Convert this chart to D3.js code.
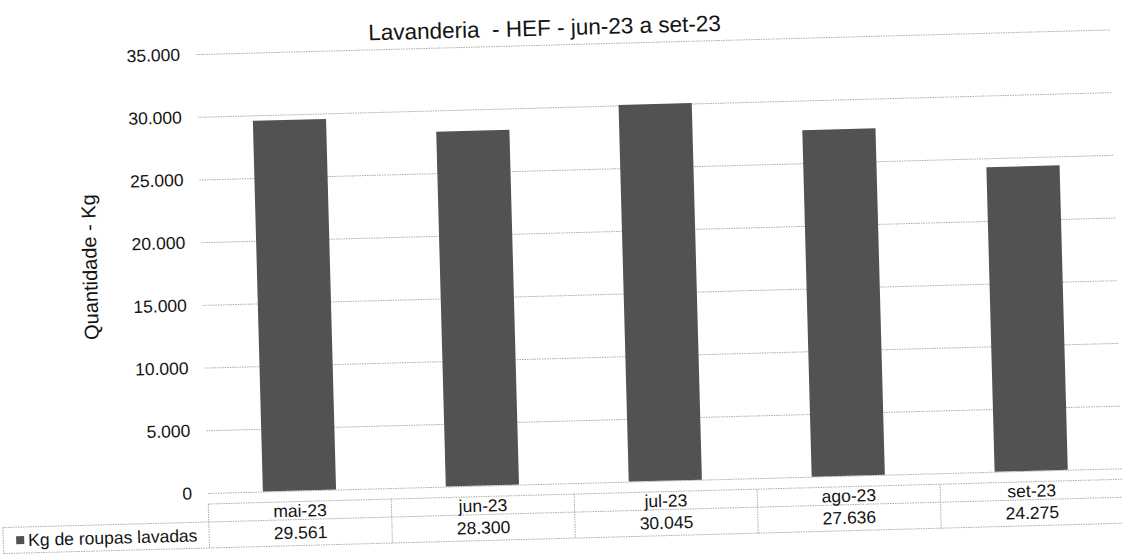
<!DOCTYPE html>
<html>
<head>
<meta charset="utf-8">
<script src="https://cdn.jsdelivr.net/npm/d3@7"></script>
<style>
  html, body { margin: 0; padding: 0; background: #fff; }
  svg { display: block; }
  text { font-family: "Liberation Sans", Arial, sans-serif; fill: #141414; }
</style>
</head>
<body>
<svg id="chart" width="1122" height="558"></svg>
<script>
// ---- data ----
const categories = ["mai-23", "jun-23", "jul-23", "ago-23", "set-23"];
const values = [29561, 28300, 30045, 27636, 24275];
const seriesName = "Kg de roupas lavadas";
const yTicks = [0, 5000, 10000, 15000, 20000, 25000, 30000, 35000];
const titleText = "Lavanderia  - HEF - jun-23 a set-23";
const yAxisTitle = "Quantidade - Kg";

// ---- layout ----
const W = 1122, H = 558;
const plotLeft = 208, plotRight = 1123, plotTop = 54, plotBottom = 493;
const tableTop = plotBottom + 11, row1H = 18, row2H = 26;
const barColor = "#525252";
const gridColor = "#ababab";

const locale = d3.formatLocale({ decimal: ",", thousands: ".", grouping: [3], currency: ["R$", ""] });
const fmt = locale.format(",d");

const svg = d3.select("#chart");
svg.append("rect").attr("width", W).attr("height", H).attr("fill", "#fff");

// scanned page is slightly rotated
const g = svg.append("g").attr("transform", `rotate(-1.55, ${plotLeft}, ${plotBottom})`);

const x = d3.scaleBand().domain(categories).range([plotLeft, plotRight]).paddingInner(0.6).paddingOuter(0.3);
const xCell = d3.scaleBand().domain(categories).range([plotLeft, plotRight]).padding(0);
const y = d3.scaleLinear().domain([0, 35000]).range([plotBottom, plotTop]);

// gridlines + tick labels
const yAxis = d3.axisLeft(y).tickValues(yTicks).tickFormat(fmt)
  .tickSize(-(plotRight - plotLeft)).tickPadding(16);
const ya = g.append("g").attr("transform", `translate(${plotLeft},0)`).call(yAxis);
ya.select(".domain").remove();
ya.selectAll(".tick line").attr("stroke", gridColor).attr("stroke-width", 1).attr("stroke-dasharray", "1.5 1");
ya.selectAll(".tick text").attr("font-size", 17.5).attr("fill", "#141414")
  .style("font-family", "'Liberation Sans', Arial, sans-serif");

// bars
g.append("g").selectAll("rect").data(values).join("rect")
  .attr("x", (d, i) => x(categories[i]))
  .attr("y", d => y(d))
  .attr("width", x.bandwidth())
  .attr("height", d => y(0) - y(d))
  .attr("fill", barColor);

// data table
const tg = g.append("g");
const border = sel => sel.attr("stroke", gridColor).attr("stroke-width", 1).attr("stroke-dasharray", "1.5 1").attr("fill", "none");
tg.append("line").attr("x1", plotLeft).attr("x2", plotRight).attr("y1", tableTop).attr("y2", tableTop).call(border);
tg.append("line").attr("x1", 2).attr("x2", plotRight).attr("y1", tableTop + row1H).attr("y2", tableTop + row1H).call(border);
tg.append("line").attr("x1", 2).attr("x2", plotRight).attr("y1", tableTop + row1H + row2H).attr("y2", tableTop + row1H + row2H).call(border);
const edges = categories.map(c => xCell(c)).concat([plotRight]);
tg.selectAll("line.v").data(edges).join("line").attr("class", "v")
  .attr("x1", d => d).attr("x2", d => d)
  .attr("y1", tableTop).attr("y2", tableTop + row1H + row2H).call(border);
tg.append("line").attr("x1", 2).attr("x2", 2).attr("y1", tableTop + row1H).attr("y2", tableTop + row1H + row2H).call(border);

tg.selectAll("text.cat").data(categories).join("text").attr("class", "cat")
  .attr("x", d => xCell(d) + xCell.bandwidth() / 2)
  .attr("y", tableTop + row1H / 2)
  .attr("dy", "0.35em").attr("text-anchor", "middle").attr("font-size", 17.5)
  .text(d => d);
tg.selectAll("text.val").data(values).join("text").attr("class", "val")
  .attr("x", (d, i) => xCell(categories[i]) + xCell.bandwidth() / 2)
  .attr("y", tableTop + row1H + row2H / 2)
  .attr("dy", "0.35em").attr("text-anchor", "middle").attr("font-size", 17.5)
  .text(d => fmt(d));
tg.append("rect").attr("x", 15).attr("y", tableTop + row1H + row2H / 2 - 4).attr("width", 8).attr("height", 8).attr("fill", barColor);
tg.append("text").attr("x", 27).attr("y", tableTop + row1H + row2H / 2)
  .attr("dy", "0.35em").attr("font-size", 17.5).text(seriesName);

// title (keeps the double space of the original)
g.append("text").attr("x", 557).attr("y", 37).attr("dy", "0.35em")
  .attr("text-anchor", "middle").attr("font-size", 22.5)
  .attr("xml:space", "preserve").style("white-space", "pre")
  .text(titleText);

// y axis title
g.append("text").attr("transform", `translate(96,264) rotate(-90)`)
  .attr("dy", "0.35em").attr("text-anchor", "middle").attr("font-size", 20).text(yAxisTitle);
</script>
</body>
</html>
